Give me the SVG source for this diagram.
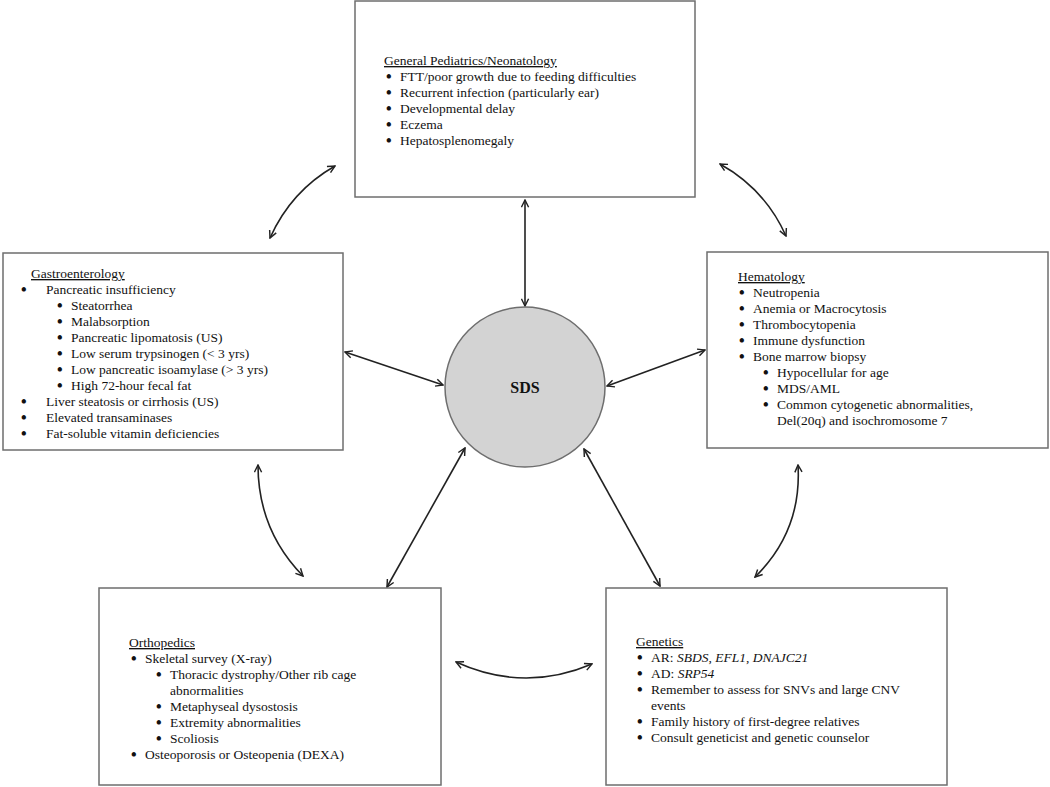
<svg xmlns="http://www.w3.org/2000/svg" width="1050" height="787" viewBox="0 0 1050 787">
<defs>
<marker id="ah" viewBox="0 0 10 10" refX="9" refY="5" markerWidth="9" markerHeight="9" markerUnits="userSpaceOnUse" orient="auto-start-reverse">
<path d="M1,1 L9,5 L1,9" fill="none" stroke="#222" stroke-width="1.6"/>
</marker>
</defs>
<style>
.box{fill:#fff;stroke:#6e6e6e;stroke-width:1.5}
.t{font-family:"Liberation Serif","Times New Roman",serif;font-size:13.5px;fill:#111}
.h{text-decoration:underline}
.b{font-size:16px;font-weight:bold}
.c{fill:none;stroke:#222;stroke-width:1.6;marker-start:url(#ah);marker-end:url(#ah)}
</style>
<rect width="1050" height="787" fill="#fff"/>
<g id="connectors">
<line class="c" x1="525" y1="200" x2="525" y2="306"/>
<line class="c" x1="345" y1="352" x2="443" y2="385"/>
<line class="c" x1="607" y1="386" x2="705" y2="350"/>
<line class="c" x1="465" y1="448" x2="387" y2="587"/>
<line class="c" x1="584" y1="449" x2="660" y2="586"/>
<path class="c" d="M270,238 Q291,191 335,166"/>
<path class="c" d="M720,164 Q765,189 786,236"/>
<path class="c" d="M258,465 Q258,530 303,576"/>
<path class="c" d="M798,465 Q802,531 755,577"/>
<path class="c" d="M456,662 Q524,693 592,664"/>
</g>
<g id="sds">
<circle cx="525" cy="387" r="80" fill="#d3d3d3" stroke="#6e6e6e" stroke-width="1.5"/>
<text x="525" y="393" text-anchor="middle" font-family="Liberation Serif, Times New Roman, serif" font-size="16" font-weight="bold" fill="#111">SDS</text>
</g>
<g id="general-pediatrics">
<rect class="box" x="355" y="1" width="340" height="196"/>
<text class="t h" x="384" y="65">General Pediatrics/Neonatology</text>
<g class="t">
<text class="b" x="386" y="82">•</text><text x="400" y="81">FTT/poor growth due to feeding difficulties</text>
<text class="b" x="386" y="98">•</text><text x="400" y="97">Recurrent infection (particularly ear)</text>
<text class="b" x="386" y="114">•</text><text x="400" y="113">Developmental delay</text>
<text class="b" x="386" y="130">•</text><text x="400" y="129">Eczema</text>
<text class="b" x="386" y="146">•</text><text x="400" y="145">Hepatosplenomegaly</text>
</g>
</g>
<g id="gastroenterology">
<rect class="box" x="3" y="253" width="340" height="197"/>
<text class="t h" x="31" y="278">Gastroenterology</text>
<g class="t">
<text class="b" x="21" y="295">•</text><text x="46" y="294">Pancreatic insufficiency</text>
<text class="b" x="57" y="311">•</text><text x="71" y="310">Steatorrhea</text>
<text class="b" x="57" y="327">•</text><text x="71" y="326">Malabsorption</text>
<text class="b" x="57" y="343">•</text><text x="71" y="342">Pancreatic lipomatosis (US)</text>
<text class="b" x="57" y="359">•</text><text x="71" y="358">Low serum trypsinogen (&lt; 3 yrs)</text>
<text class="b" x="57" y="375">•</text><text x="71" y="374">Low pancreatic isoamylase (&gt; 3 yrs)</text>
<text class="b" x="57" y="391">•</text><text x="71" y="390">High 72-hour fecal fat</text>
<text class="b" x="21" y="407">•</text><text x="46" y="406">Liver steatosis or cirrhosis (US)</text>
<text class="b" x="21" y="423">•</text><text x="46" y="422">Elevated transaminases</text>
<text class="b" x="21" y="439">•</text><text x="46" y="438">Fat-soluble vitamin deficiencies</text>
</g>
</g>
<g id="hematology">
<rect class="box" x="707" y="252" width="341" height="196"/>
<text class="t h" x="738" y="281">Hematology</text>
<g class="t">
<text class="b" x="739" y="298">•</text><text x="753" y="297">Neutropenia</text>
<text class="b" x="739" y="314">•</text><text x="753" y="313">Anemia or Macrocytosis</text>
<text class="b" x="739" y="330">•</text><text x="753" y="329">Thrombocytopenia</text>
<text class="b" x="739" y="346">•</text><text x="753" y="345">Immune dysfunction</text>
<text class="b" x="739" y="362">•</text><text x="753" y="361">Bone marrow biopsy</text>
<text class="b" x="763" y="378">•</text><text x="777" y="377">Hypocellular for age</text>
<text class="b" x="763" y="394">•</text><text x="777" y="393">MDS/AML</text>
<text class="b" x="763" y="410">•</text><text x="777" y="409">Common cytogenetic abnormalities,</text>
<text x="777" y="425">Del(20q) and isochromosome 7</text>
</g>
</g>
<g id="orthopedics">
<rect class="box" x="99" y="588" width="342" height="197"/>
<text class="t h" x="129" y="647">Orthopedics</text>
<g class="t">
<text class="b" x="131" y="664">•</text><text x="145" y="663">Skeletal survey (X-ray)</text>
<text class="b" x="156" y="680">•</text><text x="170" y="679">Thoracic dystrophy/Other rib cage</text>
<text x="170" y="695">abnormalities</text>
<text class="b" x="156" y="712">•</text><text x="170" y="711">Metaphyseal dysostosis</text>
<text class="b" x="156" y="728">•</text><text x="170" y="727">Extremity abnormalities</text>
<text class="b" x="156" y="744">•</text><text x="170" y="743">Scoliosis</text>
<text class="b" x="131" y="760">•</text><text x="145" y="759">Osteoporosis or Osteopenia (DEXA)</text>
</g>
</g>
<g id="genetics">
<rect class="box" x="606" y="588" width="341" height="197"/>
<text class="t h" x="636" y="646">Genetics</text>
<g class="t">
<text class="b" x="637" y="663">•</text><text x="651" y="662">AR: <tspan font-style="italic">SBDS</tspan>, <tspan font-style="italic">EFL1</tspan>, <tspan font-style="italic">DNAJC21</tspan></text>
<text class="b" x="637" y="679">•</text><text x="651" y="678">AD: <tspan font-style="italic">SRP54</tspan></text>
<text class="b" x="637" y="695">•</text><text x="651" y="694">Remember to assess for SNVs and large CNV</text>
<text x="651" y="710">events</text>
<text class="b" x="637" y="727">•</text><text x="651" y="726">Family history of first-degree relatives</text>
<text class="b" x="637" y="743">•</text><text x="651" y="742">Consult geneticist and genetic counselor</text>
</g>
</g>
</svg>
